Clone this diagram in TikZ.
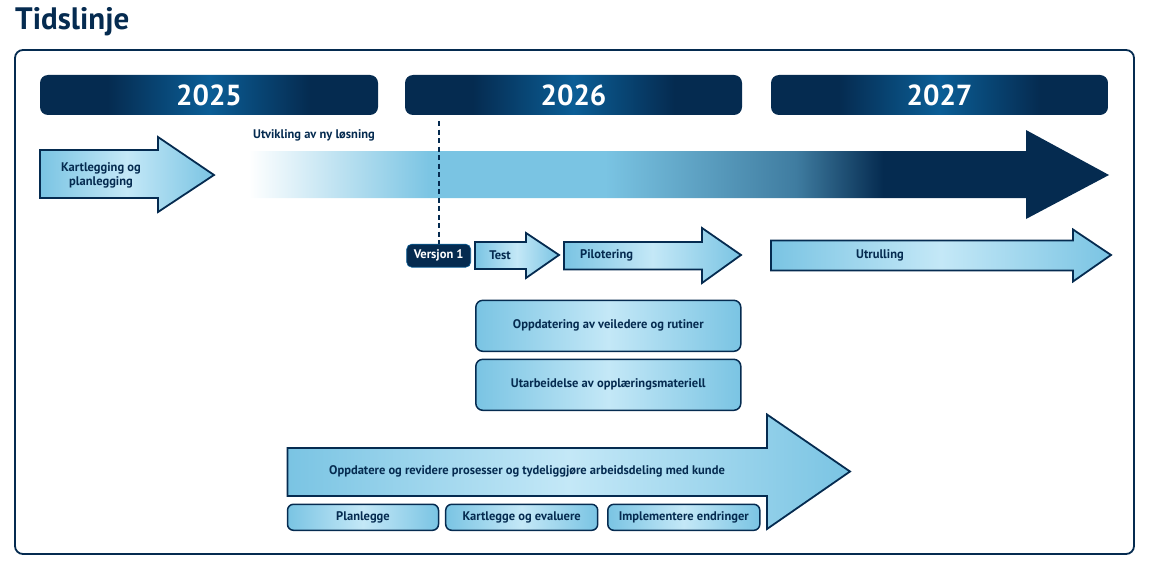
\documentclass[tikz,border=0pt]{standalone}
\usepackage{fontspec}
\setmainfont{PT Sans}
\usetikzlibrary{calc}
\definecolor{navy}{HTML}{052B50}
\definecolor{midblue}{HTML}{0B5E96}
\definecolor{lblue}{HTML}{7AC4E3}
\definecolor{llblue}{HTML}{C4E8F7}
\definecolor{medblue}{HTML}{3F7CA0}
\pgfdeclarehorizontalshading{yearshade}{100bp}{color(0bp)=(navy); color(35bp)=(navy); color(50bp)=(midblue); color(65bp)=(navy); color(100bp)=(navy)}
\pgfdeclarehorizontalshading{bigshade}{100bp}{color(0bp)=(white); color(25.5bp)=(white); color(36bp)=(lblue); color(46bp)=(lblue); color(57bp)=(medblue); color(62bp)=(navy); color(100bp)=(navy)}
\pgfdeclarehorizontalshading{lightshade}{100bp}{color(0bp)=(lblue); color(25bp)=(lblue); color(50bp)=(llblue); color(75bp)=(lblue); color(100bp)=(lblue)}
\tikzset{
  yearbar/.style={rounded corners=8pt, shading=yearshade, draw=none, minimum height=40pt, text=white, font=\bfseries\fontsize{29}{30}\selectfont, inner sep=0pt},
  lightfill/.style={shading=lightshade},
  arrowshape/.style={lightfill, draw=navy, line width=1.8pt, line join=miter},
  lbox/.style={lightfill, draw=navy, line width=1.5pt, rounded corners=7pt, inner sep=0pt, text=navy, font=\bfseries\fontsize{12.5}{14}\selectfont},
  lbl/.style={text=navy, font=\bfseries\fontsize{12.5}{14}\selectfont, inner sep=0pt},
}
\begin{document}
\begin{tikzpicture}[x=1pt,y=-1pt]
\useasboundingbox (0,0) rectangle (1150,567);
% title
\node[anchor=west, text=navy, font=\bfseries\fontsize{31}{32}\selectfont, inner sep=0pt] (title) at (15,22) {Tidslinje};
% frame
\draw[navy, line width=1.8pt, rounded corners=8pt] (15,50) rectangle (1134,554);
% year bars
\node[yearbar, minimum width=338pt] (y2025) at (209,95) {2025};
\node[yearbar, minimum width=337pt] (y2026) at (573.5,95) {2026};
\node[yearbar, minimum width=337pt] (y2027) at (939.5,95) {2027};
% kartlegging arrow
\path[arrowshape] (40,150) -- (158,150) -- (158,137) -- (214,175) -- (158,212) -- (158,198) -- (40,198) -- cycle;
\node[lbl, align=center] (kart) at (101,175) {Kartlegging og\\planlegging};
% big development arrow
\path[shading=bigshade] (240,151) -- (1026,151) -- (1026,130) -- (1109,175) -- (1026,219) -- (1026,198) -- (240,198) -- cycle;
\node[lbl, anchor=west] (utv) at (253,135) {Utvikling av ny løsning};
% versjon 1
\node[rounded corners=5pt, fill=navy, draw=midblue, line width=0.6pt, minimum width=64pt, minimum height=23pt, inner sep=0pt, text=white, font=\bfseries\fontsize{12.5}{14}\selectfont] (v1) at (438.7,255.7) {Versjon 1};
\coordinate (dtop) at (439,121);
\draw[navy, line width=1.8pt, dash pattern=on 5pt off 3.5pt] (dtop) -- (v1.north -| dtop) ++(0,-9);
% test arrow
\path[arrowshape] (475,242) -- (526,242) -- (526,233) -- (559,255) -- (526,278) -- (526,269) -- (475,269) -- cycle;
\node[lbl] (test) at (500,255.5) {Test};
% pilotering arrow
\path[arrowshape] (564,242) -- (702,242) -- (702,228) -- (741,255) -- (702,283) -- (702,269.5) -- (564,269.5) -- cycle;
\node[lbl, anchor=west] (pilot) at (580,255.5) {Pilotering};
% utrulling arrow
\path[arrowshape] (771,240.5) -- (1073,240.5) -- (1073,229.5) -- (1111,255) -- (1073,281.5) -- (1073,270.5) -- (771,270.5) -- cycle;
\node[lbl] (utr) at (880,255.5) {Utrulling};
% boxes
\node[lbox, minimum width=265pt, minimum height=51pt] (b1) at (608.3,325.8) {Oppdatering av veiledere og rutiner};
\node[lbox, minimum width=265pt, minimum height=51pt] (b2) at (608.3,384.8) {Utarbeidelse av opplæringsmateriell};
% bottom big arrow
\path[arrowshape] (287.5,448) -- (767,448) -- (767,414.5) -- (850,471.5) -- (767,529) -- (767,496) -- (287.5,496) -- cycle;
\node[lbl] (proc) at (527,471.5) {Oppdatere og revidere prosesser og tydeliggjøre arbeidsdeling med kunde};
% small boxes
\node[lbox, rounded corners=6pt, minimum width=151pt, minimum height=26pt] (s1) at (363,517.3) {Planlegge};
\node[lbox, rounded corners=6pt, minimum width=152pt, minimum height=26pt] (s2) at (521.7,517.3) {Kartlegge og evaluere};
\node[lbox, rounded corners=6pt, minimum width=152pt, minimum height=26pt] (s3) at (683.8,517.3) {Implementere endringer};
\end{tikzpicture}
\end{document}
